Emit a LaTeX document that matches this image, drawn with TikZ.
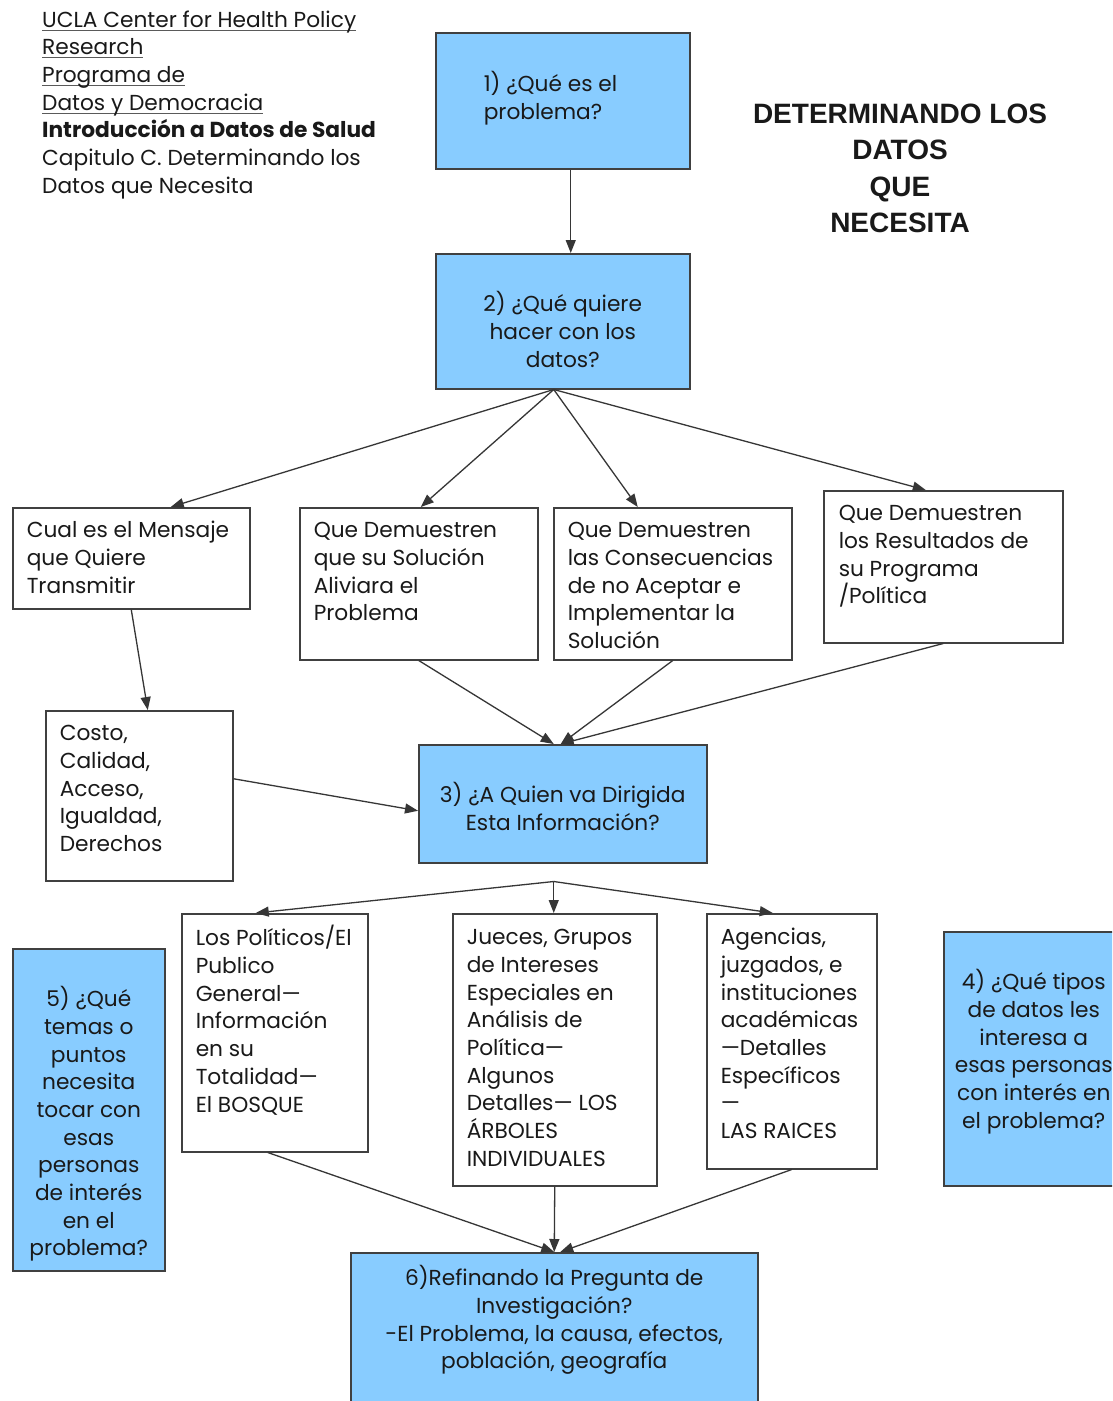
\documentclass[tikz,border=0pt]{standalone}
\usepackage{fontspec}
\setmainfont{Poppins}
\newfontfamily\titlefont{Liberation Sans}
\usetikzlibrary{arrows.meta}
\definecolor{boxblue}{RGB}{136,204,255}
\definecolor{edgecol}{RGB}{64,64,64}
\definecolor{txtcol}{RGB}{25,25,25}
\definecolor{ulcol}{RGB}{90,90,90}
\newlength\ulw
\newcommand\ulin[1]{\leavevmode\settowidth\ulw{#1}\rlap{\textcolor{ulcol}{\rule[-3.5pt]{\ulw}{1.1pt}}}#1}
\newcommand\bx[4]{\begin{minipage}[c][#2pt][t]{#1pt}\vspace*{#3pt}#4\par\end{minipage}}
\newcommand\lft{\raggedright\leftskip=14pt\relax\strut}
\newcommand\ctr{\centering\strut}
\begin{document}
\begin{tikzpicture}[x=1pt,y=-1pt,
  font=\fontsize{21.7}{27.7}\selectfont,
  every node/.style={text=txtcol},
  wbox/.style={draw=edgecol, line width=1.5pt, fill=white, inner sep=0pt, anchor=north west},
  bbox/.style={wbox, fill=boxblue},
  arr/.style={draw=edgecol!85!black, line width=1.3pt, -{Triangle[length=13pt,width=10pt]}}]
\clip (0,0) rectangle (1112,1401);
\fill[white] (0,0) rectangle (1112,1401);

% header
\node[anchor=north west, inner sep=0pt] (hdr) at (42,7.6) {\begin{minipage}[t]{380pt}\raggedright\strut
\ulin{UCLA Center for Health Policy}\\
\ulin{Research}\\
\ulin{Programa de}\\
\ulin{Datos y Democracia}\\
\textbf{Introducción a Datos de Salud}\\
Capitulo C. Determinando los\\
Datos que Necesita\end{minipage}};

% title
\node[anchor=north, inner sep=0pt] (title) at (900,97.5) {\begin{minipage}[t]{360pt}\centering
\fontsize{28}{36.5}\titlefont\bfseries\strut DETERMINANDO LOS\\DATOS\\QUE\\NECESITA\end{minipage}};

% blue steps
\node[bbox] (B1) at (435,32) {\bx{254}{136}{38.6}{\raggedright\leftskip=48pt\relax\strut 1) ¿Qué es el\\problema?}};
\node[bbox] (B2) at (435,253) {\bx{254}{135}{37.6}{\ctr 2) ¿Qué quiere\\hacer con los\\datos?}};
\node[bbox] (B3) at (418,744) {\bx{288}{118}{37.6}{\ctr 3) ¿A Quien va Dirigida\\Esta Información?}};
\node[bbox] (B5) at (12,948) {\bx{152}{322}{37.6}{\ctr 5) ¿Qué\\temas o\\puntos\\necesita\\tocar con\\esas\\personas\\de interés\\en el\\problema?}};
\node[bbox] (B4) at (943,931) {\bx{180}{254}{37.6}{\ctr 4) ¿Qué tipos\\de datos les\\interesa a\\esas personas\\con interés en\\el problema?}};
\node[bbox] (B6) at (350,1252) {\bx{407}{170}{12.6}{\ctr 6)Refinando la Pregunta de\\Investigación?\\-El Problema, la causa, efectos,\\población, geografía}};

% white boxes
\node[wbox] (A) at (12,507) {\bx{237}{101}{10.6}{\lft Cual es el Mensaje\\que Quiere\\Transmitir}};
\node[wbox] (B) at (299,507) {\bx{238}{152}{10.6}{\lft Que Demuestren\\que su Solución\\Aliviara el\\Problema}};
\node[wbox] (C) at (553,507) {\bx{238}{152}{10.6}{\lft Que Demuestren\\las Consecuencias\\de no Aceptar e\\Implementar la\\Solución}};
\node[wbox] (D) at (823,490) {\bx{239}{152}{10.6}{\raggedright\leftskip=15pt\relax\strut Que Demuestren\\los Resultados de\\su Programa\\/Política}};
\node[wbox] (E) at (45,710) {\bx{187}{170}{10.6}{\lft Costo,\\Calidad,\\Acceso,\\Igualdad,\\Derechos}};
\node[wbox] (F) at (181,913) {\bx{186}{238}{11.6}{\lft Los Políticos/El\\Publico\\General—\\Información\\en su\\Totalidad—\\El BOSQUE}};
\node[wbox] (G) at (452,913) {\bx{204}{272}{11.6}{\lft Jueces, Grupos\\de Intereses\\Especiales en\\Análisis de\\Política—\\Algunos\\Detalles— LOS\\ÁRBOLES\\INDIVIDUALES}};
\node[wbox] (H) at (706,913) {\bx{170}{255}{11.6}{\lft Agencias,\\juzgados, e\\instituciones\\académicas\\—Detalles\\Específicos\\—\\LAS RAICES}};

% connectors
\draw[arr] ([xshift=8pt]B1.south) -- ([xshift=8pt]B2.north);
\draw[arr] ([xshift=-9pt]B2.south) -- ([xshift=39.5pt]A.north);
\draw[arr] ([xshift=-9pt]B2.south) -- ([xshift=2pt]B.north);
\draw[arr] ([xshift=-9pt]B2.south) -- ([xshift=-35pt]C.north);
\draw[arr] ([xshift=-9pt]B2.south) -- ([xshift=-17.5pt]D.north);
\draw[arr] (A.south) -- ([xshift=8.5pt]E.north);
\draw[arr] (B.south) -- ([xshift=-9pt]B3.north);
\draw[arr] (C.south) -- ([xshift=-2pt]B3.north);
\draw[arr] (D.south) -- ([xshift=-2pt]B3.north);
\draw[arr] ([yshift=17pt]E.east) -- ([yshift=-7pt]B3.west);
\coordinate (hub) at ([xshift=-9pt,yshift=-18pt]B3.south);
\draw[arr] (hub) -- ([xshift=-19pt]F.north);
\draw[arr] (hub) -- (hub |- G.north);
\draw[arr] (hub) -- ([xshift=-19pt]H.north);
\draw[arr] ([xshift=-7pt]F.south) -- (B6.north);
\draw[arr] (G.south) -- (B6.north);
\draw[arr] (H.south) -- ([xshift=6pt]B6.north);
\end{tikzpicture}
\end{document}
